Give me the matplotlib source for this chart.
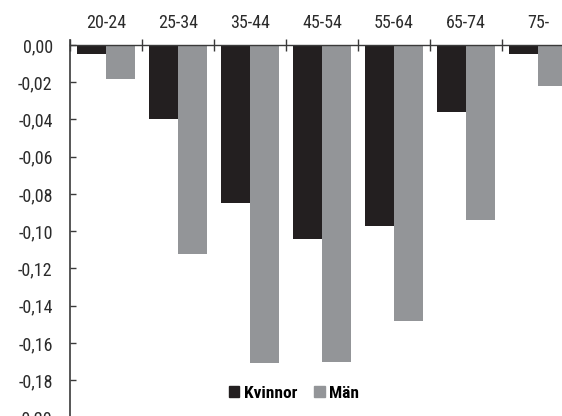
import matplotlib
matplotlib.use("Agg")
import matplotlib.pyplot as plt
from matplotlib.patches import Rectangle
import numpy as np

categories = ["20-24", "25-34", "35-44", "45-54", "55-64", "65-74", "75-"]
kvinnor = [-0.005, -0.040, -0.085, -0.104, -0.097, -0.036, -0.005]
man = [-0.018, -0.112, -0.171, -0.170, -0.148, -0.094, -0.022]
series_names = ["Kvinnor", "Män"]
yticks = [0.0, -0.02, -0.04, -0.06, -0.08, -0.10, -0.12, -0.14, -0.16, -0.18, -0.20]

c_k = "#231f20"
c_m = "#939598"
axis_c = "#3a3a3a"
text_c = "#2b2b2b"

fam = ['Roboto Condensed', 'DejaVu Sans']
plt.rcParams['font.family'] = fam

W, H = 562, 416
fig = plt.figure(figsize=(W / 100, H / 100), dpi=100)
left = 70 / W
top = 1 - 45 / H
height = 372.4 / H
width = 504 / W
ax = fig.add_axes([left, top - height, width, height])

x = np.arange(len(categories))
bw = 0.4
ax.bar(x - bw / 2, kvinnor, bw, color=c_k, edgecolor='none', label=series_names[0])
ax.bar(x + bw / 2, man, bw, color=c_m, edgecolor='none', label=series_names[1])

ax.set_xlim(-0.5, len(categories) - 0.5)
ax.set_ylim(-0.20, 0.0)

ax.spines['right'].set_visible(False)
ax.spines['bottom'].set_visible(False)
ax.spines['top'].set_color(axis_c)
ax.spines['left'].set_color(axis_c)
ax.spines['top'].set_linewidth(1.0)
ax.spines['left'].set_linewidth(1.2)
ax.spines['left'].set_bounds(-0.20, 0.0027)

ax.xaxis.tick_top()
ax.set_xticks(np.arange(len(categories) + 1) - 0.5)
ax.set_xticklabels([])
ax.set_xticks(x, minor=True)
ax.set_xticklabels(categories, minor=True, fontsize=13, color=text_c)
ax.tick_params(axis='x', which='major', direction='inout', length=8, width=1.0, color=axis_c, top=True, bottom=False)
ax.tick_params(axis='x', which='minor', length=0, pad=9, top=True, bottom=False)

ax.set_yticks(yticks)
ax.set_yticklabels([f"{v:.2f}".replace('.', ',') for v in yticks], fontsize=13, color=text_c)
ax.tick_params(axis='y', direction='in', length=4.5, width=1.0, color=axis_c, pad=12.5)

handles = [Rectangle((0, 0), 1, 1, color=c_k), Rectangle((0, 0), 1, 1, color=c_m)]
fig.legend(handles, series_names, loc='center', bbox_to_anchor=(294 / W, 1 - 393 / H),
           ncol=2, frameon=False, handlelength=0.6, handleheight=0.6,
           handletextpad=0.25, columnspacing=1.0,
           prop={'family': fam, 'weight': 'bold', 'size': 12.5})

fig.savefig("out.png", dpi=100)
